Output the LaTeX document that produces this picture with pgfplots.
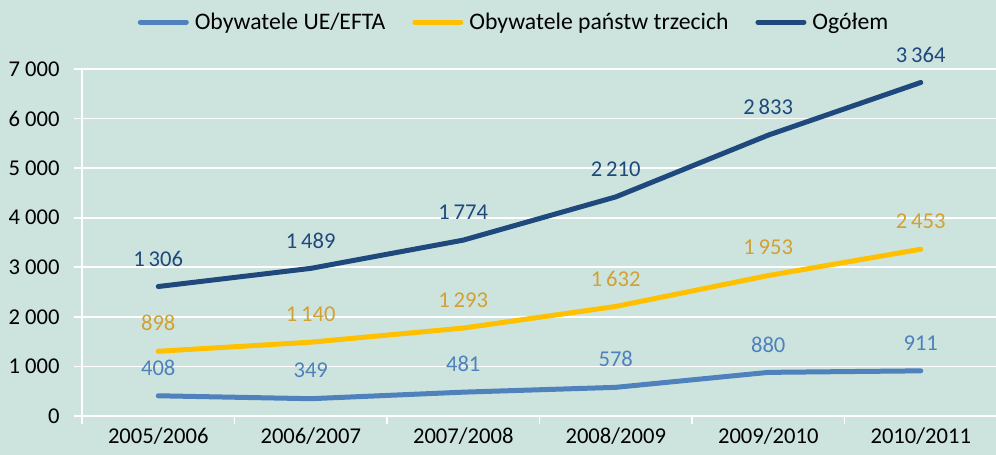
\documentclass[border=0pt]{standalone}
\usepackage{pgfplots}
\pgfplotsset{compat=1.18}
\usepackage{pgfplotstable}
\usepackage{fontspec}
\setmainfont{Carlito}
\definecolor{bg}{HTML}{CDE4DE}
\definecolor{ue}{HTML}{4F81BD}
\definecolor{tc}{HTML}{FFC000}
\definecolor{tot}{HTML}{1F497D}
\definecolor{tclab}{HTML}{D2A033}
\pgfplotstableread{
x ue third total
0 408 898 1306
1 349 1140 1489
2 481 1293 1774
3 578 1632 2210
4 880 1953 2833
5 911 2453 3364
}\data
\begin{document}
\begin{tikzpicture}
\fill[bg] (-82bp,-39bp) rectangle (914bp,416bp);
\begin{axis}[at={(0,0)}, anchor=south west, scale only axis,
  width=915bp, height=347bp,
  xmin=-0.5, xmax=5.5, ymin=0, ymax=7000,
  stack plots=y, clip=false,
  font=\fontsize{22.7}{27}\selectfont,
  /pgf/number format/assume math mode=true,
  /pgf/number format/1000 sep={\,},
  axis x line*=bottom, axis y line*=left,
  axis line style={white, line width=2bp, -},
  tick align=outside,
  major tick length=8bp,
  major tick style={white, line width=1.8bp},
  xtick={-0.5,0.5,...,5.5},
  x tick label as interval,
  xticklabels={2005/2006,2006/2007,2007/2008,2008/2009,2009/2010,2010/2011},
  ytick={0,1000,...,7000},
  yticklabel style={xshift=-11bp, /pgf/number format/1000 sep={\ }},
  ymajorgrids, major grid style={white, line width=1.8bp},
  tick label style={black},
  legend columns=3,
  legend cell align=left,
  legend style={draw=none, fill=none, at={(0.0575,1.135)}, anchor=west,
    font=\fontsize{23.8}{28}\selectfont,
    /tikz/every odd column/.append style={column sep=4bp},
    /tikz/every even column/.append style={column sep=25bp}},
  legend image code/.code={\draw[#1, line width=5bp, line cap=round] (0bp,0bp) -- (46bp,0bp);},
  nodes near coords,
  point meta=explicit,
  every node near coord/.append style={anchor=center, yshift=28bp, font=\fontsize{22.7}{27}\selectfont},
]
\addplot[ue, line width=5bp, line cap=round, line join=round, no markers,
  every node near coord/.append style={text=ue}]
  table[x=x, y=ue, meta=ue]{\data};
\addlegendentry{Obywatele UE/EFTA}
\addplot[tc, line width=5bp, line cap=round, line join=round, no markers,
  every node near coord/.append style={text=tclab}]
  table[x=x, y=third, meta=third]{\data};
\addlegendentry{Obywatele państw trzecich}
\addplot[tot, line width=5bp, line cap=round, line join=round, no markers,
  every node near coord/.append style={text=tot}]
  table[x=x, y=total, meta=total]{\data};
\addlegendentry{Ogółem}
\end{axis}
\pgfresetboundingbox
\path (-82bp,-39bp) rectangle (914bp,416bp);
\end{tikzpicture}
\end{document}
